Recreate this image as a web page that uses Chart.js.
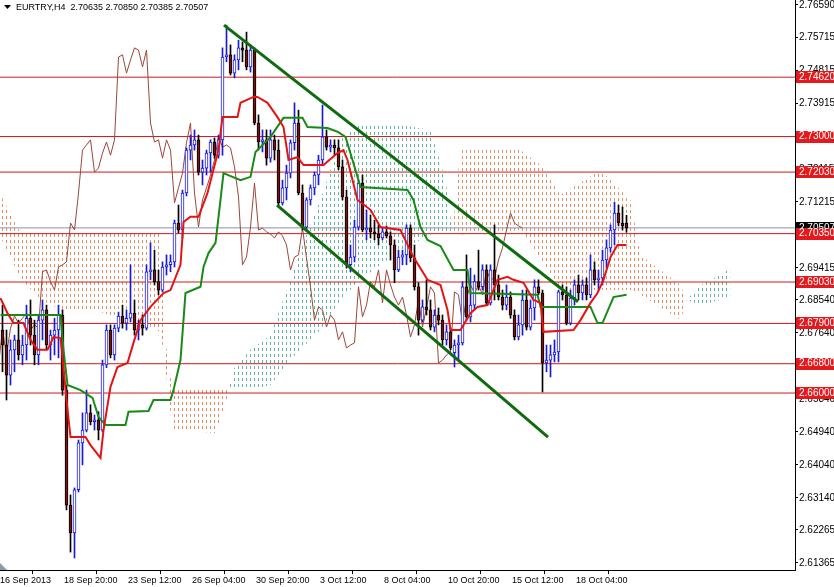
<!DOCTYPE html>
<html>
<head>
<meta charset="utf-8">
<script src="https://cdn.jsdelivr.net/npm/chart.js@4.4.1/dist/chart.umd.min.js"></script>
<style>
    html, body { margin: 0; padding: 0; background: #ffffff; }
    #wrap { width: 834px; height: 587px; }
</style>
</head>
<body>
<div id="wrap"><canvas id="myChart" width="834" height="587"></canvas></div>
<script>
// EURTRY H4, one value per bar (bar 0 = 16 Sep 2013 04:00)
const open = [
    2.6772, 2.6731, 2.6649, 2.6718, 2.6745, 2.6704, 2.6731, 2.6804, 2.6758, 2.6704,
    2.6799, 2.6827, 2.6731, 2.6758, 2.6772, 2.6813, 2.6608, 2.6294, 2.6218, 2.6336,
    2.6464, 2.6499, 2.6546, 2.6522, 2.6527, 2.6499, 2.6677, 2.6772, 2.6704, 2.6777,
    2.6810, 2.6791, 2.6804, 2.6818, 2.6772, 2.6786, 2.6777, 2.6931, 2.6936, 2.6904,
    2.6881, 2.6944, 2.6950, 2.6958, 2.7064, 2.7045, 2.7146, 2.7263, 2.7277, 2.7291,
    2.7203, 2.7214, 2.7255, 2.7285, 2.7249, 2.7291, 2.7517, 2.7523, 2.7473, 2.7509,
    2.7542, 2.7536, 2.7490, 2.7536, 2.7337, 2.7285, 2.7291, 2.7241, 2.7291, 2.7263,
    2.7119, 2.7160, 2.7200, 2.7283, 2.7337, 2.7146, 2.7053, 2.7127, 2.7160, 2.7195,
    2.7236, 2.7299, 2.7271, 2.7277, 2.7269, 2.7217, 2.7135, 2.6950, 2.6971, 2.7053,
    2.7173, 2.7045, 2.7050, 2.7040, 2.7034, 2.7023, 2.7040, 2.7029, 2.7004, 2.6936,
    2.6971, 2.6977, 2.7050, 2.6969, 2.6890, 2.6799, 2.6835, 2.6827, 2.6780, 2.6813,
    2.6799, 2.6745, 2.6767, 2.6710, 2.6731, 2.6737, 2.6890, 2.6808, 2.6840, 2.6904,
    2.6890, 2.6936, 2.6846, 2.6936, 2.6895, 2.6862, 2.6840, 2.6862, 2.6813, 2.6753,
    2.6786, 2.6854, 2.6780, 2.6832, 2.6890, 2.6873, 2.6682, 2.6690, 2.6704, 2.6712,
    2.6876, 2.6868, 2.6791, 2.6859, 2.6895, 2.6873, 2.6895, 2.6868, 2.6936, 2.6909,
    2.6914, 2.6963, 2.6996, 2.7045, 2.7091, 2.7064, 2.70635
];
const high = [
    2.6840, 2.6772, 2.6745, 2.6758, 2.6799, 2.6758, 2.6840, 2.6854, 2.6799, 2.6813,
    2.6854, 2.6840, 2.6772, 2.6804, 2.6840, 2.6827, 2.6622, 2.6322, 2.6341, 2.6472,
    2.6546, 2.6608, 2.6568, 2.6540, 2.6549, 2.6690, 2.6786, 2.6786, 2.6786, 2.6821,
    2.6840, 2.6827, 2.6950, 2.6854, 2.6799, 2.6813, 2.6950, 2.7010, 2.6990, 2.6936,
    2.6958, 2.6977, 2.6977, 2.7072, 2.7113, 2.7154, 2.7269, 2.7304, 2.7318, 2.7304,
    2.7236, 2.7263, 2.7291, 2.7296, 2.7304, 2.7542, 2.7604, 2.7550, 2.7523, 2.7563,
    2.7558, 2.7585, 2.7550, 2.7542, 2.7359, 2.7318, 2.7318, 2.7318, 2.7304, 2.7291,
    2.7181, 2.7222, 2.7291, 2.7392, 2.7372, 2.7168, 2.7133, 2.7168, 2.7203, 2.7249,
    2.7386, 2.7318, 2.7291, 2.7291, 2.7291, 2.7236, 2.7154, 2.7004, 2.7072, 2.7181,
    2.7195, 2.7100, 2.7086, 2.7072, 2.7059, 2.7050, 2.7056, 2.7040, 2.7018, 2.6990,
    2.6990, 2.7059, 2.7059, 2.7004, 2.6901, 2.6854, 2.6909, 2.6854, 2.6827, 2.6832,
    2.6813, 2.6786, 2.6777, 2.6745, 2.6758, 2.6904, 2.6977, 2.6941, 2.6922, 2.6990,
    2.6950, 2.6950, 2.6950, 2.7059, 2.6922, 2.6881, 2.6895, 2.6876, 2.6827, 2.6813,
    2.6881, 2.6881, 2.6854, 2.6909, 2.6909, 2.6881, 2.6731, 2.6731, 2.6745, 2.6881,
    2.6895, 2.6890, 2.6881, 2.6909, 2.6922, 2.6909, 2.6914, 2.6977, 2.6958, 2.6936,
    2.6990, 2.7018, 2.7059, 2.7121, 2.7113, 2.7108, 2.70850
];
const low = [
    2.6658, 2.6581, 2.6622, 2.6658, 2.6690, 2.6677, 2.6690, 2.6731, 2.6677, 2.6677,
    2.6745, 2.6718, 2.6690, 2.6704, 2.6696, 2.6594, 2.6281, 2.6166, 2.6150, 2.6330,
    2.6404, 2.6494, 2.6513, 2.6499, 2.6472, 2.6494, 2.6669, 2.6696, 2.6690, 2.6767,
    2.6777, 2.6772, 2.6794, 2.6758, 2.6745, 2.6758, 2.6772, 2.6909, 2.6895, 2.6868,
    2.6876, 2.6922, 2.6931, 2.6944, 2.7037, 2.7023, 2.7138, 2.7236, 2.7263, 2.7195,
    2.7168, 2.7195, 2.7203, 2.7241, 2.7241, 2.7249, 2.7504, 2.7468, 2.7460, 2.7482,
    2.7504, 2.7482, 2.7476, 2.7332, 2.7263, 2.7258, 2.7222, 2.7230, 2.7236, 2.7108,
    2.7113, 2.7127, 2.7187, 2.7263, 2.7141, 2.7045, 2.7040, 2.7113, 2.7141, 2.7168,
    2.7222, 2.7263, 2.7258, 2.7249, 2.7209, 2.7127, 2.6941, 2.6931, 2.6958, 2.7045,
    2.7040, 2.7018, 2.7023, 2.7018, 2.7004, 2.7018, 2.7023, 2.6963, 2.6901, 2.6931,
    2.6950, 2.6950, 2.6958, 2.6881, 2.6758, 2.6794, 2.6813, 2.6772, 2.6767, 2.6786,
    2.6731, 2.6731, 2.6718, 2.6671, 2.6690, 2.6731, 2.6799, 2.6794, 2.6827, 2.6881,
    2.6881, 2.6840, 2.6840, 2.6854, 2.6854, 2.6827, 2.6827, 2.6804, 2.6745, 2.6745,
    2.6758, 2.6772, 2.6772, 2.6799, 2.6868, 2.6603, 2.6658, 2.6644, 2.6685, 2.6685,
    2.6854, 2.6786, 2.6786, 2.6840, 2.6854, 2.6854, 2.6854, 2.6860, 2.6895, 2.6881,
    2.6895, 2.6941, 2.6985, 2.7004, 2.7056, 2.7045, 2.70385
];
const close = [
    2.6731, 2.6649, 2.6718, 2.6745, 2.6704, 2.6731, 2.6804, 2.6758, 2.6704, 2.6799,
    2.6827, 2.6731, 2.6758, 2.6772, 2.6813, 2.6608, 2.6294, 2.6218, 2.6336, 2.6464,
    2.6499, 2.6546, 2.6522, 2.6527, 2.6499, 2.6677, 2.6772, 2.6704, 2.6777, 2.6810,
    2.6791, 2.6804, 2.6818, 2.6772, 2.6786, 2.6777, 2.6931, 2.6936, 2.6904, 2.6881,
    2.6944, 2.6950, 2.6958, 2.7064, 2.7045, 2.7146, 2.7263, 2.7277, 2.7291, 2.7203,
    2.7214, 2.7255, 2.7285, 2.7249, 2.7291, 2.7517, 2.7523, 2.7473, 2.7509, 2.7542,
    2.7536, 2.7490, 2.7536, 2.7337, 2.7285, 2.7291, 2.7241, 2.7291, 2.7263, 2.7119,
    2.7160, 2.7200, 2.7283, 2.7337, 2.7146, 2.7053, 2.7127, 2.7160, 2.7195, 2.7236,
    2.7299, 2.7271, 2.7277, 2.7269, 2.7217, 2.7135, 2.6950, 2.6971, 2.7053, 2.7173,
    2.7045, 2.7050, 2.7040, 2.7034, 2.7023, 2.7040, 2.7029, 2.7004, 2.6936, 2.6971,
    2.6977, 2.7050, 2.6969, 2.6890, 2.6799, 2.6835, 2.6827, 2.6780, 2.6813, 2.6799,
    2.6745, 2.6767, 2.6723, 2.6731, 2.6737, 2.6890, 2.6808, 2.6840, 2.6904, 2.6890,
    2.6936, 2.6846, 2.6936, 2.6895, 2.6862, 2.6840, 2.6862, 2.6813, 2.6753, 2.6786,
    2.6854, 2.6780, 2.6832, 2.6890, 2.6873, 2.6682, 2.6690, 2.6704, 2.6712, 2.6876,
    2.6868, 2.6791, 2.6859, 2.6895, 2.6873, 2.6895, 2.6868, 2.6936, 2.6909, 2.6914,
    2.6963, 2.6996, 2.7045, 2.7091, 2.7064, 2.7056, 2.70507
];

// Ichimoku lines, [bar, price]
const tenkan = [
    [-0.5, 2.6859], [1.25, 2.6818], [2.75, 2.6791], [5.25, 2.6791], [7, 2.6745], [8.75, 2.6718],
    [11.25, 2.6718], [12.75, 2.6753], [14.5, 2.6750], [15.25, 2.6671], [16, 2.6581], [17, 2.6480],
    [20.75, 2.6480], [22, 2.6458], [24.5, 2.6423], [25.25, 2.6499], [27, 2.6617], [28.75, 2.6671],
    [31.25, 2.6682], [32.75, 2.6737], [34.5, 2.6799], [37, 2.6835], [40.25, 2.6873], [42, 2.6881],
    [44.5, 2.6950], [45.25, 2.7067], [47, 2.7081], [49, 2.7081], [51.25, 2.7146], [54, 2.7263],
    [55, 2.7353], [58.75, 2.7353], [59.5, 2.7392], [62.75, 2.7408], [63.75, 2.7408], [66.25, 2.7392],
    [68.75, 2.7353], [70.25, 2.7326], [71.5, 2.7236], [73.75, 2.7244], [75.25, 2.7222], [80.25, 2.7222],
    [83.75, 2.7255], [85.25, 2.7263], [86.25, 2.7236], [88.75, 2.7127], [92, 2.7100], [94.5, 2.7053],
    [99.5, 2.7045], [102.75, 2.6971], [106.25, 2.6909], [109.5, 2.6895], [111.25, 2.6827], [112, 2.6772],
    [114.5, 2.6772], [117, 2.6818], [118.75, 2.6835], [121.25, 2.6840], [123.75, 2.6909], [126.25, 2.6917],
    [127.75, 2.6909], [130.25, 2.6901], [132.75, 2.6854], [134.5, 2.6846], [135.25, 2.6767], [142.75, 2.6772],
    [144.5, 2.6799], [147, 2.6846], [148.75, 2.6873], [150.25, 2.6909], [152, 2.6971], [153.75, 2.7004],
    [156, 2.7004]
];
const kijun = [
    [-0.5, 2.6813], [14.5, 2.6813], [15.25, 2.6718], [16.25, 2.6622], [19.5, 2.6608], [22.5, 2.6587],
    [24, 2.6535], [25.75, 2.6513], [30.75, 2.6513], [31.5, 2.6549], [36.5, 2.6551], [37.75, 2.6581],
    [42, 2.6581], [42.75, 2.6608], [44.5, 2.6690], [45.75, 2.6873], [49.5, 2.6890], [50.25, 2.6944],
    [51.5, 2.6982], [53.25, 2.7010], [54.5, 2.7127], [55.25, 2.7200], [59.5, 2.7181], [62, 2.7190],
    [63.25, 2.7258], [67, 2.7299], [70.25, 2.7351], [75, 2.7351], [76.25, 2.7326], [81.25, 2.7323],
    [83.75, 2.7313], [85.75, 2.7299], [87.5, 2.7236], [89.5, 2.7162], [101.25, 2.7154], [102.75, 2.7127],
    [104.5, 2.7053], [106.25, 2.7018], [109.5, 2.7001], [112.75, 2.6936], [116.25, 2.6936], [117, 2.6873],
    [133.75, 2.6868], [134.5, 2.6835], [147, 2.6835], [148.75, 2.6791], [150, 2.6791], [152.75, 2.6862],
    [156, 2.6868]
];
const chikouShift = 26;

// cloud (senkou spans), shifted 26 bars ahead
const cloudBars = [-0.5, 4.5, 9.5, 14.5, 24.5, 36.5, 39.5, 40.5, 42.5, 53.25, 56.5, 57.5, 62, 67, 72, 74.5,
    79.5, 84.5, 89.5, 99.5, 107, 110.75, 112.5, 114.5, 129.5, 134.5, 139.5, 149.5, 157, 159.5, 169.5, 171,
    174.5, 179.5, 182];
const spanA = [2.7026, 2.6914, 2.6854, 2.6827, 2.6821, 2.6777, 2.6767, 2.6690, 2.6499, 2.6491, 2.6594,
    2.6663, 2.6718, 2.6758, 2.6909, 2.6990, 2.7127, 2.7291, 2.7332, 2.7332, 2.7318, 2.7181, 2.7040, 2.7032,
    2.7045, 2.6963, 2.6881, 2.6881, 2.6881, 2.6868, 2.6799, 2.6854, 2.6895, 2.6922, 2.6941];
const spanB = [2.7141, 2.7037, 2.7037, 2.7040, 2.7040, 2.7040, 2.7040, 2.6758, 2.6608, 2.6608, 2.6608,
    2.6608, 2.6608, 2.6622, 2.6690, 2.6718, 2.6772, 2.6854, 2.6909, 2.6990, 2.7032, 2.7040, 2.7040, 2.7263,
    2.7263, 2.7222, 2.7141, 2.7209, 2.7127, 2.6977, 2.6895, 2.6854, 2.6840, 2.6854, 2.6859];

// channel drawn on the chart
const upperChannel = [[55.375, 2.7604], [143.875, 2.6849]];
const lowerChannel = [[68.625, 2.7113], [136.375, 2.6480]];

const levels = [2.74620, 2.73000, 2.72030, 2.70350, 2.69030, 2.67900, 2.66800, 2.66000];
const lastPrice = 2.70507;
const priceTicks = [2.76590, 2.75715, 2.74815, 2.73915, 2.73015, 2.72115, 2.71215, 2.70315, 2.69415,
    2.68540, 2.67640, 2.66740, 2.65840, 2.64940, 2.64040, 2.63140, 2.62265, 2.61365];
const timeTicks = [-0.625, 15.375, 31.375, 47.375, 63.375, 79.375, 95.375, 111.375, 127.375, 143.375];
const timeLabels = ['16 Sep 2013', '18 Sep 20:00', '23 Sep 12:00', '26 Sep 04:00', '30 Sep 20:00',
    '3 Oct 12:00', '8 Oct 04:00', '10 Oct 20:00', '15 Oct 12:00', '18 Oct 04:00'];
const header = 'EURTRY,H4  2.70635 2.70850 2.70385 2.70507';

const xMin = -0.625;
const xMax = 198.125;
const yMin = 2.61171;
const yMax = 2.76726;

const FONT = '"Liberation Sans", Arial, sans-serif';
Chart.defaults.font.family = FONT;

// dotted hatch like the terminal's cloud
function hatch(color) {
    const c = document.createElement('canvas');
    c.width = 4;
    c.height = 6;
    const g = c.getContext('2d');
    g.fillStyle = color;
    g.fillRect(2, 0, 1, 3);
    return g.createPattern(c, 'repeat');
}

const bullLine = '#1a1ad0';
const bearBody = '#7a1212';
const isUp = close.map((c, i) => c >= open[i]);

const toPts = (arr) => arr.map((p) => ({ x: p[0], y: p[1] }));

const datasets = [];
// 0,1: cloud
datasets.push({
    type: 'line', label: 'spanA',
    data: cloudBars.map((b, i) => ({ x: b, y: spanA[i] })),
    borderColor: 'rgba(0,0,0,0)', borderWidth: 1, pointRadius: 0,
    fill: { target: 1, above: hatch('#5cb59e'), below: hatch('#e58e63') },
    order: 20
});
datasets.push({
    type: 'line', label: 'spanB',
    data: cloudBars.map((b, i) => ({ x: b, y: spanB[i] })),
    borderColor: 'rgba(0,0,0,0)', borderWidth: 1, pointRadius: 0, fill: false,
    order: 20
});
levels.forEach((v) => {
    datasets.push({
        type: 'line', data: [{ x: xMin, y: v }, { x: xMax, y: v }],
        borderColor: '#d01818', borderWidth: 1, pointRadius: 0, order: 15
    });
});
datasets.push({
    type: 'line', data: [{ x: xMin, y: lastPrice }, { x: xMax, y: lastPrice }],
    borderColor: '#8a8fa8', borderWidth: 1, pointRadius: 0, order: 15
});
datasets.push({
    type: 'line', label: 'chikou',
    data: close.map((c, i) => ({ x: i - chikouShift, y: c })),
    borderColor: '#9a4638', borderWidth: 1, pointRadius: 0, order: 12
});
datasets.push({
    type: 'bar', label: 'wicks',
    data: close.map((c, i) => ({ x: i, y: [low[i], high[i]] })),
    backgroundColor: isUp.map((u) => (u ? bullLine : '#000000')),
    borderWidth: 0, barThickness: 1, grouped: false, order: 10
});
datasets.push({
    type: 'bar', label: 'bodies',
    data: close.map((c, i) => ({ x: i, y: [open[i], c] })),
    backgroundColor: isUp.map((u) => (u ? '#ffffff' : bearBody)),
    borderColor: isUp.map((u) => (u ? bullLine : '#000000')),
    borderWidth: 1, borderSkipped: false, barThickness: 3, minBarLength: 1,
    grouped: false, order: 9
});
datasets.push({
    type: 'line', label: 'kijun', data: toPts(kijun),
    borderColor: '#178a17', borderWidth: 2, pointRadius: 0, order: 6
});
datasets.push({
    type: 'line', label: 'tenkan', data: toPts(tenkan),
    borderColor: '#e41414', borderWidth: 2, pointRadius: 0, order: 5
});
[upperChannel, lowerChannel].forEach((ln) => {
    datasets.push({
        type: 'line', data: toPts(ln),
        borderColor: '#0e6b0e', borderWidth: 3, pointRadius: 0, order: 2
    });
});

const tagsPlugin = {
    id: 'tags',
    afterDraw(chart) {
        const ctx = chart.ctx;
        const ys = chart.scales.y;
        const right = chart.chartArea.right;
        ctx.save();
        ctx.font = '10px ' + FONT;
        ctx.textBaseline = 'middle';
        ctx.textAlign = 'left';
        // current bid tag first, the level tags cover it
        const py = ys.getPixelForValue(lastPrice);
        ctx.fillStyle = '#000000';
        ctx.fillRect(right + 1, Math.round(py) - 6, 38, 12);
        ctx.fillStyle = '#ffffff';
        ctx.fillText(lastPrice.toFixed(5), right + 4, py);
        levels.forEach((v) => {
            const y = ys.getPixelForValue(v);
            ctx.fillStyle = '#e3191d';
            ctx.fillRect(right + 1, Math.round(y) - 6, 38, 12);
            ctx.fillStyle = '#ffffff';
            ctx.fillText(v.toFixed(5), right + 4, y);
        });
        // title
        ctx.fillStyle = '#000000';
        ctx.beginPath();
        ctx.moveTo(4, 5);
        ctx.lineTo(11, 5);
        ctx.lineTo(7.5, 9);
        ctx.closePath();
        ctx.fill();
        ctx.font = '9px ' + FONT;
        ctx.fillText(header, 16, 8);
        // chart shift marker
        const b = chart.chartArea.bottom;
        ctx.fillStyle = '#8c9aa8';
        ctx.beginPath();
        ctx.moveTo(0, b - 7);
        ctx.lineTo(7, b);
        ctx.lineTo(0, b);
        ctx.closePath();
        ctx.fill();
        ctx.restore();
    }
};

const ctx = document.getElementById('myChart');
const myChart = new Chart(ctx, { // eslint-disable-line
    type: 'bar',
    data: { datasets: datasets },
    options: {
        responsive: false,
        animation: false,
        devicePixelRatio: 1,
        events: [],
        layout: { padding: 0 },
        plugins: {
            legend: { display: false },
            tooltip: { enabled: false },
            filler: { drawTime: 'beforeDatasetsDraw' }
        },
        scales: {
            x: {
                type: 'linear',
                min: xMin,
                max: xMax,
                offset: false,
                afterBuildTicks: (scale) => {
                    scale.ticks = timeTicks.map((v) => ({ value: v }));
                },
                afterFit: (scale) => {
                    scale.height = 17;
                    scale.paddingLeft = 0;
                    scale.paddingRight = 0;
                },
                ticks: {
                    autoSkip: false,
                    maxRotation: 0,
                    align: 'start',
                    padding: 1,
                    color: '#000000',
                    font: { size: 9 },
                    callback: (value, index) => timeLabels[index]
                },
                grid: { drawOnChartArea: false, drawTicks: true, tickLength: 4, color: '#000000' },
                border: { display: true, color: '#000000' }
            },
            y: {
                position: 'right',
                min: yMin,
                max: yMax,
                afterBuildTicks: (scale) => {
                    scale.ticks = priceTicks.map((v) => ({ value: v }));
                },
                afterFit: (scale) => {
                    scale.width = 39;
                    scale.paddingTop = 0;
                    scale.paddingBottom = 0;
                },
                ticks: {
                    autoSkip: false,
                    padding: 1,
                    color: '#000000',
                    font: { size: 10 },
                    callback: (value) => Number(value).toFixed(5)
                },
                grid: { drawOnChartArea: false, drawTicks: true, tickLength: 3, color: '#000000' },
                border: { display: true, color: '#000000' }
            }
        }
    },
    plugins: [tagsPlugin]
});
</script>
</body>
</html>
